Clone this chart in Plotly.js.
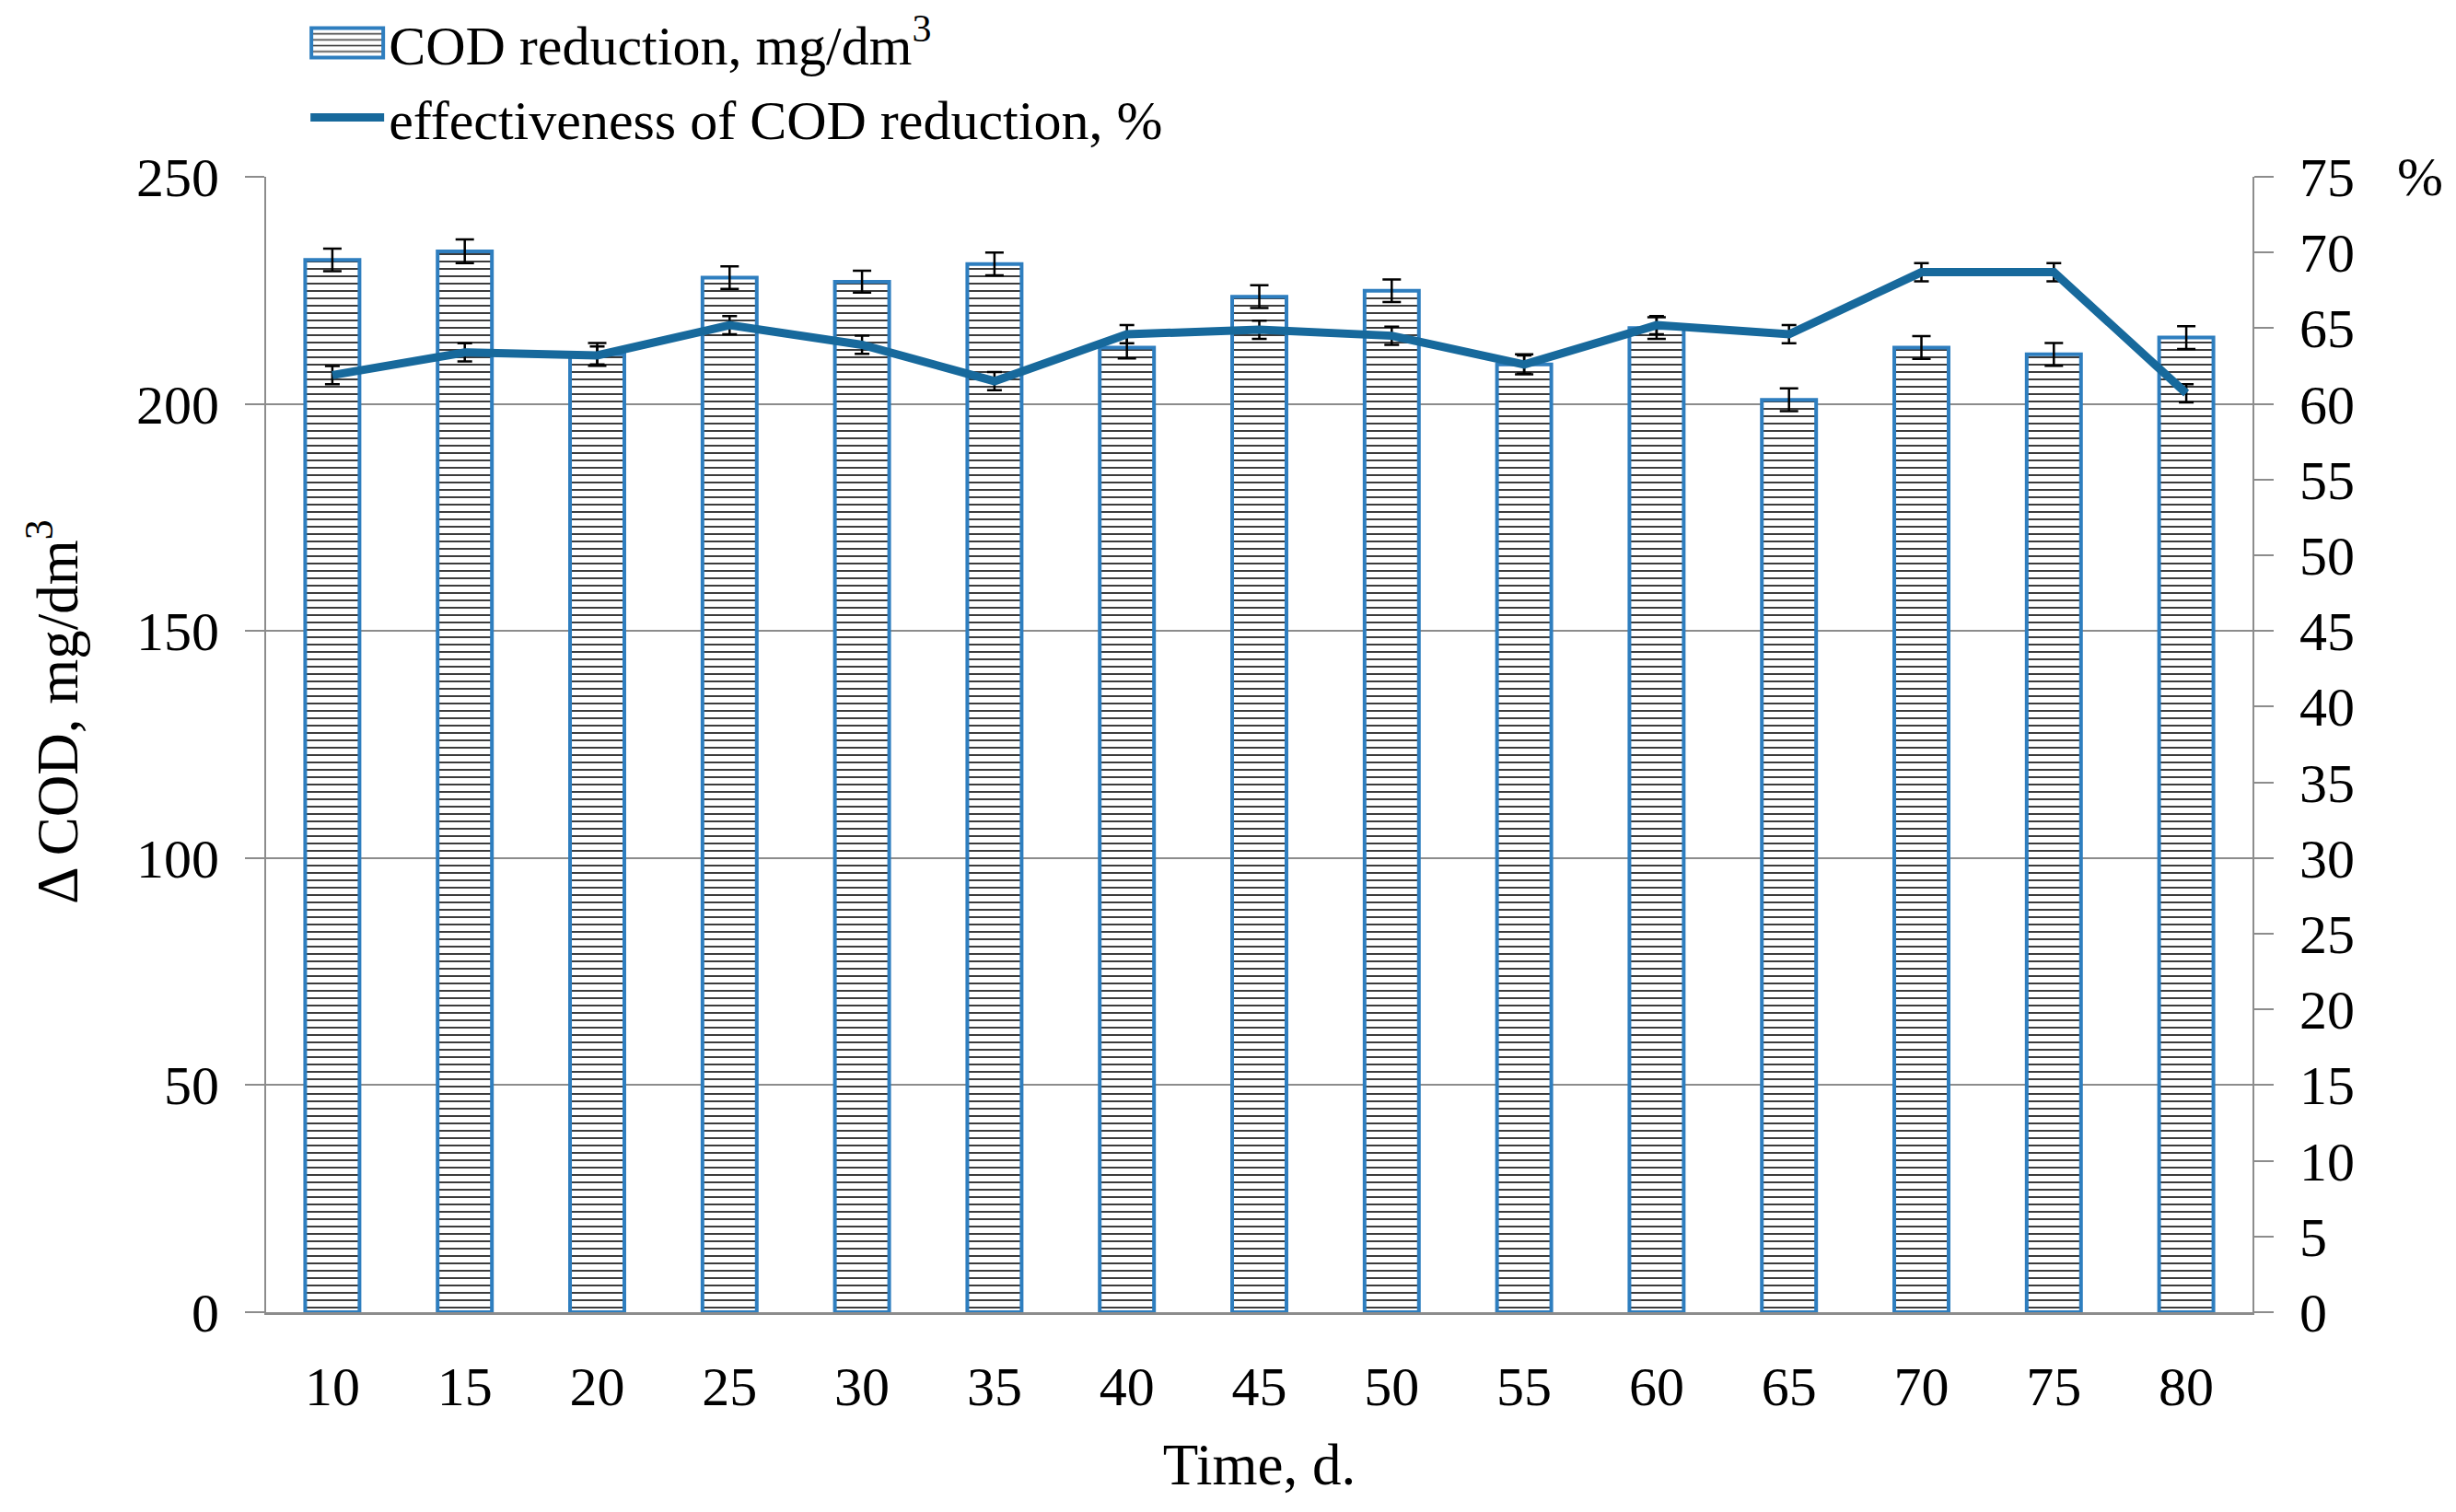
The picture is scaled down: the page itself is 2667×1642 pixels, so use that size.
<!DOCTYPE html>
<html>
<head>
<meta charset="utf-8">
<script src="https://cdn.plot.ly/plotly-3.0.1.min.js"></script>
<style>
  html, body { margin: 0; padding: 0; background: #fff; }
  #chart { width: 2667px; height: 1642px; }
</style>
</head>
<body>
<div id="chart"></div>
<script>
// Time, days
var days = [10, 15, 20, 25, 30, 35, 40, 45, 50, 55, 60, 65, 70, 75, 80];

// COD reduction, mg/dm3 (bars, left axis) and its error
var codReduction = [231.7, 233.6, 210.9, 227.8, 226.9, 230.8, 212.4, 223.6, 224.9, 208.7, 216.7, 200.9, 212.4, 210.9, 214.6];
var codError = [2.5, 2.6, 2.5, 2.5, 2.4, 2.5, 2.4, 2.5, 2.5, 2.2, 2.4, 2.5, 2.5, 2.5, 2.5];

// effectiveness of COD reduction, % (line, right axis) and its error
var effectiveness = [61.9, 63.4, 63.2, 65.2, 63.9, 61.5, 64.6, 64.9, 64.5, 62.6, 65.2, 64.6, 68.7, 68.7, 60.7];
var effError = [0.6, 0.6, 0.6, 0.6, 0.6, 0.6, 0.6, 0.6, 0.6, 0.6, 0.6, 0.6, 0.6, 0.6, 0.6];

var leftTicks = [0, 50, 100, 150, 200, 250];
var rightTicks = [0, 5, 10, 15, 20, 25, 30, 35, 40, 45, 50, 55, 60, 65, 70, 75];

var serif = 'Liberation Serif, Times New Roman, serif';
var grey = '#8c8c8c';

var bars = {
    x: days,
    y: codReduction,
    type: 'bar',
    name: 'COD reduction, mg/dm<sup>3</sup>',
    marker: {
        color: 'white',
        line: { color: '#2e7ebf', width: 4 },
        pattern: { shape: '-', size: 8, solidity: 0.24, fgcolor: '#333', bgcolor: 'white' }
    },
    error_y: { type: 'data', array: codError, visible: true, color: 'black', thickness: 2.5, width: 10 }
};

var line = {
    x: days,
    y: effectiveness,
    yaxis: 'y2',
    type: 'scatter',
    mode: 'lines',
    name: 'effectiveness of COD reduction, %',
    line: { color: '#17699c', width: 9 },
    error_y: { type: 'data', array: effError, visible: true, color: 'black', thickness: 2.5, width: 8 }
};

var layout = {
    width: 2667,
    height: 1642,
    margin: { l: 289, r: 221, t: 192, b: 217, autoexpand: false },
    paper_bgcolor: 'white',
    plot_bgcolor: 'white',
    font: { family: serif, size: 60, color: 'black' },
    bargap: 0.59,
    showlegend: true,
    legend: {
        x: 0.02, y: 1.155, xanchor: 'left', yanchor: 'top',
        font: { family: serif, size: 60, color: 'black' },
        itemwidth: 80,
        bgcolor: 'rgba(0,0,0,0)',
        tracegroupgap: 0
    },
    xaxis: {
        type: 'category',
        range: [-0.5, days.length - 0.5],
        tickvals: days,
        ticktext: days.map(String),
        ticks: '',
        showline: true,
        linecolor: grey,
        linewidth: 3,
        ticklabelstandoff: 26,
        showgrid: false,
        zeroline: false,
        title: { text: 'Time, d.', font: { family: serif, size: 63 }, standoff: 30 }
    },
    yaxis: {
        range: [0, 250],
        tickvals: leftTicks,
        ticks: 'outside',
        ticklen: 21,
        tickwidth: 2,
        tickcolor: grey,
        showline: true,
        linecolor: grey,
        linewidth: 2,
        showgrid: true,
        gridcolor: grey,
        gridwidth: 2,
        zeroline: false,
        ticklabelstandoff: 16
    },
    yaxis2: {
        overlaying: 'y',
        side: 'right',
        range: [0, 75],
        tickvals: rightTicks,
        ticks: 'outside',
        ticklen: 21,
        tickwidth: 2,
        tickcolor: grey,
        showline: true,
        linecolor: grey,
        linewidth: 2,
        showgrid: false,
        zeroline: false,
        ticklabelstandoff: 16
    },
    annotations: [{
        // left axis title, placed a little above the middle like the original
        text: '\u0394 COD, mg/dm<sup>3</sup>',
        xref: 'paper', yref: 'paper',
        x: -0.107, y: 0.529, xanchor: 'center', yanchor: 'middle',
        textangle: -90,
        showarrow: false,
        font: { family: serif, size: 63, color: 'black' }
    }, {
        text: '%',
        xref: 'paper', yref: 'paper',
        x: 1.072, y: 1, xanchor: 'left', yanchor: 'middle',
        showarrow: false,
        font: { family: serif, size: 60, color: 'black' }
    }]
};

Plotly.newPlot('chart', [bars, line], layout, { displayModeBar: false, staticPlot: true }).then(function (gd) {
    // make the bar swatch in the legend as wide as the line swatch
    var sw = gd.querySelectorAll('.legend .traces')[0];
    if (sw) {
        sw.querySelectorAll('.legendpoints path').forEach(function (p) {
            p.setAttribute('d', 'M39,16H-39V-16H39Z');
        });
    }
});
</script>
</body>
</html>
